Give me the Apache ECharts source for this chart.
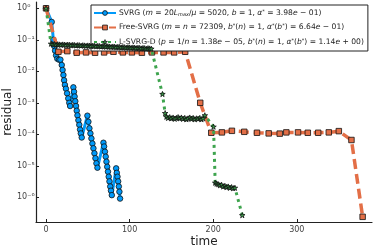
<!DOCTYPE html>
<html>
<head>
<meta charset="utf-8">
<script src="https://cdn.jsdelivr.net/npm/echarts@6/dist/echarts.min.js"></script>
<style>html,body{margin:0;padding:0;background:#fff;}#c{width:374px;height:249px;}</style>
</head>
<body>
<div id="c"></div>
<script>
// ---- data ----
const seriesNames = ['SVRG', 'Free-SVRG', 'L-SVRG-D'];
const xTicks = [0, 100, 200, 300];
const yTicks = [1, 1e-1, 1e-2, 1e-3, 1e-4, 1e-5, 1e-6];

const svrgTime = [0, 6.8, 8.8, 9.8, 10.8, 12.0, 13.5, 15.5, 17.2, 18.8, 19.8, 20.8, 21.6, 22.6, 23.8, 25.2, 26.6, 27.8, 28.8,
  32.7, 33.5, 34.2, 35.0, 35.9, 36.7, 37.6, 38.7, 39.8, 40.7, 41.6, 42.7,
  49.5, 50.7, 51.9, 53.1, 54.3, 55.5, 56.7, 57.9, 59.1, 60.3, 61.5,
  68.7, 69.5, 70.5, 71.4, 72.3, 73.2, 74.1, 75.0, 75.9, 76.8, 77.7, 78.7,
  83.9, 84.7, 85.5, 86.3, 87.1, 87.8, 88.6];
const svrgRes = [1, 0.37, 0.1, 0.063, 0.045, 0.032, 0.025, 0.0234, 0.0234, 0.0158, 0.011, 0.0076, 0.0052, 0.0037, 0.0028, 0.002, 0.00138, 0.001, 0.00079,
  3.1e-3, 2.24e-3, 1.58e-3, 1.12e-3, 7.9e-4, 5.6e-4, 4.0e-4, 2.8e-4, 2.0e-4, 1.41e-4, 1.07e-4, 7.9e-5,
  3.9e-4, 2.5e-4, 1.55e-4, 1.07e-4, 7.4e-5, 5.1e-5, 3.6e-5, 2.5e-5, 1.74e-5, 1.2e-5, 8.7e-6,
  5.4e-5, 4.1e-5, 2.8e-5, 1.95e-5, 1.35e-5, 9.3e-6, 6.5e-6, 4.5e-6, 3.2e-6, 2.2e-6, 1.62e-6, 1.17e-6,
  8.3e-6, 6.0e-6, 4.5e-6, 3.2e-6, 2.2e-6, 1.5e-6, 9.1e-7];

const freeTime = [0, 14.8, 25.5, 36.7, 47.9, 58.7, 69.5, 80.7, 91.9, 102.7, 114.7, 126.7, 140.6, 153.3, 166.5, 184.5,
  197.7, 210.4, 222.4, 237.2, 252.4, 266.4, 279.6, 287.5, 301.5, 313.2, 325.6, 338.3, 350.3, 365.4, 378.8];
const freeRes = [1, 0.0417, 0.0437, 0.0389, 0.0398, 0.0389, 0.0398, 0.0417, 0.0398, 0.0398, 0.0389, 0.0398, 0.0398, 0.0398, 0.0417, 1.0e-3,
  1.12e-4, 1.15e-4, 1.29e-4, 1.2e-4, 1.12e-4, 1.07e-4, 1.05e-4, 1.15e-4, 1.15e-4, 1.12e-4, 1.12e-4, 1.15e-4, 1.26e-4, 6.6e-5, 2.4e-7];

const lsvrgTime = [0,
  6, 8, 10, 12, 14, 16, 18, 20, 22, 24, 26, 28, 30, 32, 34, 36, 38, 40, 42, 44, 46, 48, 50, 52, 54, 56, 58, 60,
  62, 64, 66, 68, 70, 72, 74, 76, 78, 80, 82, 84, 86, 88, 90, 92, 94, 96, 98, 100, 102, 104, 106, 108, 110, 112,
  114, 116, 118, 120, 122, 124, 126,
  139.3, 142.5,
  144, 146, 148, 150, 152, 154, 156, 158, 160, 162, 164, 166, 168, 170, 172, 174, 176, 178, 180, 182, 184, 186, 188, 190,
  200.4,
  202.4, 204, 206, 208, 210, 212, 214, 216, 218, 220, 222, 224, 226,
  234.8];
const lsvrgRes = [1,
  0.075, 0.072, 0.073, 0.070, 0.072, 0.071, 0.069, 0.071, 0.070, 0.068, 0.070, 0.069, 0.067, 0.069, 0.068, 0.066, 0.068, 0.067, 0.065, 0.067, 0.066, 0.064, 0.066, 0.065, 0.063, 0.065, 0.064, 0.062,
  0.064, 0.063, 0.061, 0.063, 0.062, 0.060, 0.062, 0.061, 0.059, 0.061, 0.060, 0.058, 0.060, 0.059, 0.057, 0.059, 0.058, 0.056, 0.058, 0.057, 0.055, 0.057, 0.056, 0.054, 0.056, 0.055,
  0.053, 0.055, 0.054, 0.052, 0.054, 0.053, 0.052,
  1.9e-3, 4.7e-4,
  3.6e-4, 3.3e-4, 3.5e-4, 3.2e-4, 3.4e-4, 3.1e-4, 3.3e-4, 3.5e-4, 3.2e-4, 3.4e-4, 3.1e-4, 3.3e-4, 3.0e-4, 3.2e-4, 3.4e-4, 3.1e-4, 3.3e-4, 3.0e-4, 3.2e-4, 3.1e-4, 3.3e-4, 3.0e-4, 3.2e-4, 4.0e-4,
  1.74e-4,
  2.9e-6, 2.7e-6, 2.6e-6, 2.4e-6, 2.5e-6, 2.2e-6, 2.3e-6, 2.1e-6, 2.2e-6, 2.0e-6, 2.1e-6, 1.95e-6, 2.0e-6,
  2.7e-7];

const legendLabels = {
  'SVRG': 'SVRG ({i|m} = 20{i|L}{sub|max}/{i|μ} = 5020, {i|b} = 1, {i|α}{sup|*} = 3.98{i|e} − 01)',
  'Free-SVRG': 'Free-SVRG ({i|m} = {i|n} = 72309, {i|b}{sup|*}({i|n}) = 1, {i|α}{sup|*}({i|b}{sup|*}) = 6.64{i|e} − 01)',
  'L-SVRG-D': 'L-SVRG-D ({i|p} = 1/{i|n} = 1.38{i|e} − 05, {i|b}{sup|*}({i|n}) = 1, {i|α}{sup|*}({i|b}{sup|*}) = 1.14{i|e} + 00)'
};

// ---- chart ----
const FONT = 'DejaVu Sans';
const supMap = {'0':'⁰','1':'¹','2':'²','3':'³','4':'⁴','5':'⁵','6':'⁶','7':'⁷','8':'⁸','9':'⁹','-':'⁻'};
function supStr(n) { return String(n).split('').map(c => supMap[c]).join(''); }
const starPath = 'path://M50,0 L61,35 L98,35 L68,57 L79,91 L50,70 L21,91 L32,57 L2,35 L39,35 Z';

const zip = (a, b) => a.map((t, i) => [t, b[i]]);

const chart = echarts.init(document.getElementById('c'), null, {renderer: 'canvas'});
chart.setOption({
  animation: false,
  backgroundColor: '#fff',
  grid: {left: 36, right: 2, top: 2, bottom: 27, containLabel: false, outerBoundsMode: 'none'},
  xAxis: {
    type: 'value', min: -12, max: 390,
    name: 'time', nameLocation: 'middle', nameGap: 14, nameMoveOverlap: false,
    nameTextStyle: {fontFamily: FONT, fontSize: 12, color: '#222'},
    splitLine: {show: false},
    axisLine: {show: true, onZero: false, lineStyle: {color: '#222', width: 1.2}},
    axisTick: {show: true, inside: true, length: 3, customValues: xTicks, lineStyle: {color: '#222'}},
    axisLabel: {customValues: xTicks, fontFamily: FONT, fontSize: 8, color: '#444', margin: 4}
  },
  yAxis: {
    type: 'log', logBase: 10, min: 1.644e-7, max: 1.585,
    name: 'residual', nameLocation: 'middle', nameGap: 22, nameMoveOverlap: false,
    nameTextStyle: {fontFamily: FONT, fontSize: 12, color: '#222'},
    splitLine: {show: false},
    axisLine: {show: true, onZero: false, lineStyle: {color: '#222', width: 1.2}},
    axisTick: {show: true, inside: true, length: 3, customValues: yTicks, lineStyle: {color: '#222'}},
    axisLabel: {
      customValues: yTicks, fontFamily: FONT, fontSize: 8, color: '#444', align: 'left', margin: 19,
      formatter: v => '10' + supStr(Math.round(Math.log10(v)))
    }
  },
  legend: {
    data: seriesNames,
    orient: 'vertical', left: 91, top: 5,
    padding: [4, 4, 5, 2],
    itemWidth: 22, itemHeight: 6, itemGap: 6.5,
    backgroundColor: '#fff', borderColor: '#222', borderWidth: 1, borderRadius: 0,
    itemStyle: {borderWidth: 0.8, borderColor: '#111'},
    formatter: name => legendLabels[name],
    textStyle: {
      fontFamily: FONT, fontSize: 7.6, color: '#222', padding: [0, 0, 0, -2],
      rich: {
        i: {fontFamily: FONT, fontSize: 7.6, fontStyle: 'italic', color: '#222'},
        sub: {fontFamily: FONT, fontSize: 5, fontStyle: 'italic', color: '#222', verticalAlign: 'bottom', padding: [3, 0, 0, 0]},
        sup: {fontFamily: FONT, fontSize: 5, color: '#222', verticalAlign: 'top', padding: [0, 0, 3, 0]}
      }
    }
  },
  series: [
    {
      name: 'SVRG', type: 'line', data: zip(svrgTime, svrgRes),
      symbol: 'circle', symbolSize: 5.5,
      lineStyle: {color: '#009AFA', width: 3},
      itemStyle: {color: '#009AFA', borderColor: '#111', borderWidth: 0.8},
      z: 2
    },
    {
      name: 'Free-SVRG', type: 'line', data: zip(freeTime, freeRes),
      symbol: 'rect', symbolSize: 5.5,
      lineStyle: {color: '#E36F47', width: 3.5, type: [10, 5]},
      itemStyle: {color: '#E36F47', borderColor: '#111', borderWidth: 0.8},
      z: 3
    },
    {
      name: 'L-SVRG-D', type: 'line', data: zip(lsvrgTime, lsvrgRes),
      symbol: starPath, symbolSize: 5.5, symbolKeepAspect: true,
      lineStyle: {color: '#3EA44E', width: 3, type: [3, 4]},
      itemStyle: {color: '#3EA44E', borderColor: '#111', borderWidth: 0.8},
      z: 4
    }
  ]
});
</script>
</body>
</html>
